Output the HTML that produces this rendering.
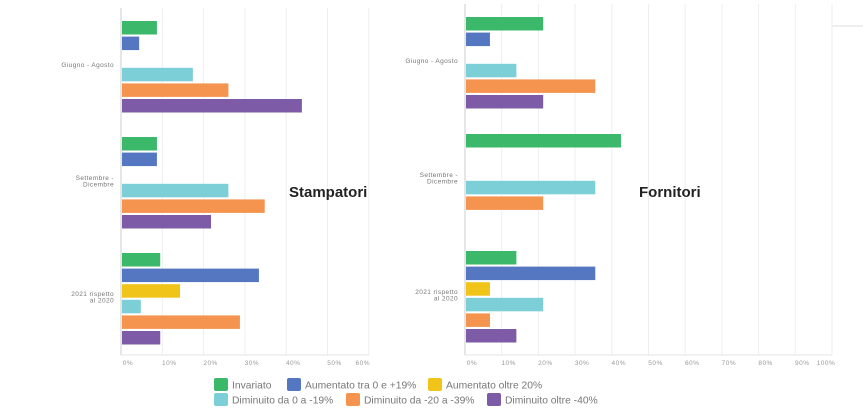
<!DOCTYPE html>
<html><head><meta charset="utf-8">
<style>
html,body{margin:0;padding:0;background:#fff;width:863px;height:414px;overflow:hidden;font-family:"Liberation Sans",sans-serif;}
svg{display:block}
</style></head>
<body>
<svg id="chart" width="863" height="414" viewBox="0 0 863 414">
<line x1="832" y1="26" x2="863" y2="26" stroke="#ddd" stroke-width="1"/>
</svg>
<script>
const categories = ["Giugno - Agosto", "Settembre - Dicembre", "2021 rispetto al 2020"];
const seriesNames = ["Invariato","Aumentato tra 0 e +19%","Aumentato oltre 20%","Diminuito da 0 a -19%","Diminuito da -20 a -39%","Diminuito oltre -40%"];
const seriesColors = ["#3cb86a","#5577c2","#f0c419","#7ccfd6","#f5944f","#7d5ba6"];
// values per category, order of series (0 = absent)
const stampatoriGiugno = [8.7, 4.4, 0, 17.4, 26, 43.8];
const stampatoriSettembre = [8.7, 8.7, 0, 26, 34.8, 21.8];
const stampatori2021 = [9.5, 33.4, 14.3, 4.8, 28.8, 9.5];
const fornitoriGiugno = [21.3, 6.8, 0, 14, 35.5, 21.3];
const fornitoriSettembre = [42.5, 0, 0, 35.5, 21.3, 0];
const fornitori2021 = [14, 35.5, 6.8, 21.3, 6.8, 14];
const stampatoriTicks = ["0%","10%","20%","30%","40%","50%","60%"];
const fornitoriTicks = ["0%","10%","20%","30%","40%","50%","60%","70%","80%","90%","100%"];

const NS = "http://www.w3.org/2000/svg";
const svg = document.getElementById("chart");
function mk(tag, attrs, parent){
  const e = document.createElementNS(NS, tag);
  for (const k in attrs) e.setAttribute(k, attrs[k]);
  (parent||svg).appendChild(e);
  return e;
}

function drawChart(cfg){
  const g = mk("g", {});
  
  
  const x = v => cfg.x0 + v * cfg.pxPer10 / 10;
  cfg.ticks.forEach((t, i) => {
    const gx = x(i * 10);
    const ln = mk("line", {x1:gx, x2:gx, y1:cfg.top, y2:cfg.bottom, stroke: i===0 ? "#ccc" : "#eee", "stroke-width":1}, g);
    
    
    const tx = mk("text", {x: gx + (i===cfg.ticks.length-1 ? -6 : 7), y: cfg.bottom + 10, "font-size":6.5, fill:"#999", "text-anchor":"middle", "letter-spacing":"0.5"}, g);
    tx.textContent = t;
    
    
  });
  const ax = mk("line", {x1:cfg.x0, x2:x((cfg.ticks.length-1)*10), y1:cfg.bottom, y2:cfg.bottom, stroke:"#e4e4e4", "stroke-width":1}, g);
  
  
  cfg.data.forEach((vals, ci) => {
    const gy = cfg.firstY + ci * cfg.groupStep;
    vals.forEach((v, si) => {
      if (!v) return;
      const r = mk("rect", {x:cfg.x0+1, y: gy + si*cfg.slot, width: x(v)-cfg.x0-1, height: cfg.barH, fill: seriesColors[si]}, g);
      
      
    });
    const lines = cfg.labels[ci];
    const cy = gy + 3*cfg.slot - 1 + (lines.length===1 ? 0 : -3);
    lines.forEach((ln, li) => {
      const t = mk("text", {x: cfg.x0 - 7, y: cy + li*6.5, "font-size":6.5, fill:"#777", "text-anchor":"end", "letter-spacing":"0.4"}, g);
      t.textContent = ln;
      
      
    });
  });
  const title = mk("text", {x: cfg.titleX, y: 197, "font-size":15, "font-weight":"bold", fill:"#222"}, g);
  title.textContent = cfg.title;
  
  
}

drawChart({name:"stampatori-chart", title:"Stampatori", titleX:289, x0:121, pxPer10:41.3, top:8, bottom:355,
  firstY:21, groupStep:116, slot:15.6, barH:13.5, ticks:stampatoriTicks,
  data:[stampatoriGiugno, stampatoriSettembre, stampatori2021],
  labels:[["Giugno - Agosto"],["Settembre -","Dicembre"],["2021 rispetto","al 2020"]]});
drawChart({name:"fornitori-chart", title:"Fornitori", titleX:639, x0:465, pxPer10:36.7, top:4, bottom:355,
  firstY:17, groupStep:117, slot:15.6, barH:13.5, ticks:fornitoriTicks,
  data:[fornitoriGiugno, fornitoriSettembre, fornitori2021],
  labels:[["Giugno - Agosto"],["Settembre -","Dicembre"],["2021 rispetto","al 2020"]]});

const legPos = [[214,378],[287,378],[428,378],[214,393],[346,393],[487,393]];
const lg = mk("g", {});


seriesNames.forEach((n, i) => {
  const [lx, ly] = legPos[i];
  const sw = mk("rect", {x:lx, y:ly, width:14, height:13, rx:2, fill:seriesColors[i]}, lg);
  
  
  const t = mk("text", {x:lx+18, y:ly+10.5, "font-size":10.3, fill:"#777"}, lg);
  t.textContent = n;
  
  
});
</script>
</body></html>
